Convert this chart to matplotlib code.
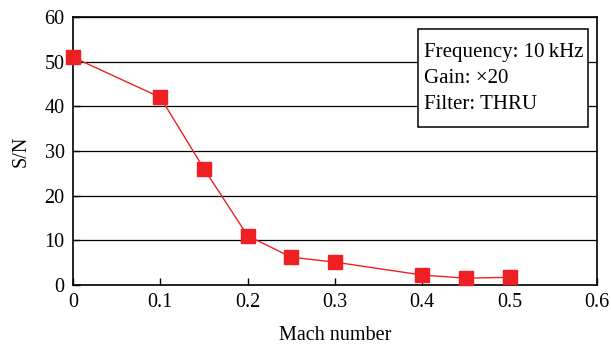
import matplotlib
matplotlib.use("Agg")
import matplotlib.pyplot as plt
from matplotlib.patches import Rectangle

# values
mach = [0, 0.1, 0.15, 0.2, 0.25, 0.3, 0.4, 0.45, 0.5]
sn = [51, 42, 26, 11, 6.2, 5.1, 2.2, 1.5, 1.7]
xticks = [0, 0.1, 0.2, 0.3, 0.4, 0.5, 0.6]
yticks = [0, 10, 20, 30, 40, 50, 60]
info = ["Frequency: 10\u2009kHz", "Gain: \u00d720", "Filter: THRU"]

plt.rcParams['font.family'] = ['Liberation Serif', 'DejaVu Serif']
plt.rcParams['font.size'] = 14.5

fig = plt.figure(figsize=(6.11, 3.47), dpi=100)
ax = fig.add_axes([0.1195, 0.179, 0.8575, 0.772])

ax.plot(mach, sn, color='#ee2024', lw=1, marker='s', ms=9.5,
        markerfacecolor='#ee2024', markeredgecolor='#ee2024', zorder=3, clip_on=False)

ax.set_xlim(0, 0.6)
ax.set_ylim(0, 60)
ax.set_xticks(xticks)
ax.set_xticklabels(['0', '0.1', '0.2', '0.3', '0.4', '0.5', '0.6'])
ax.set_yticks(yticks)
ax.yaxis.grid(True, color='black', lw=0.9)
ax.set_axisbelow(True)
ax.tick_params(direction='in', length=5, width=1, colors='black', pad=6)
for s in ax.spines.values():
    s.set_linewidth(1.2)

ax.set_xlabel("Mach number", labelpad=10)
ax.set_ylabel("S/N", labelpad=10)

# info box
ax.add_patch(Rectangle((0.658, 0.59), 0.325, 0.365, transform=ax.transAxes,
                       facecolor='white', edgecolor='black', lw=1.1, zorder=4))
for i, line in enumerate(info):
    ax.text(0.67, 0.866 - i * 0.097, line, transform=ax.transAxes,
            ha='left', va='center', fontsize=15, zorder=5)

fig.savefig("out.png", dpi=100)
